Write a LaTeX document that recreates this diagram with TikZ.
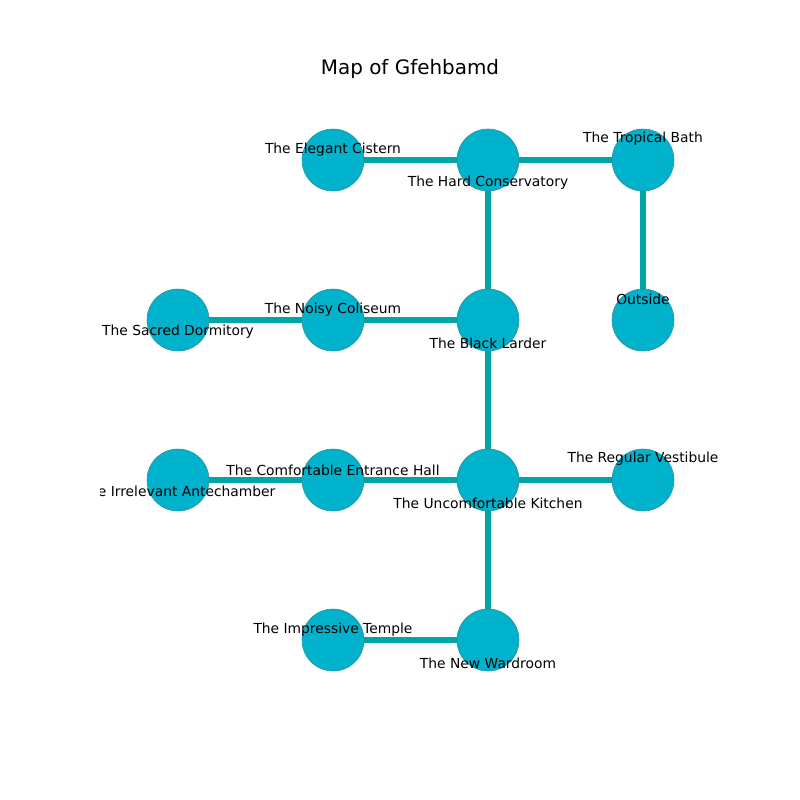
\documentclass[tikz,border=0pt]{standalone}
\usepackage{fontspec}
\setmainfont{DejaVu Sans}
\usepackage{xcolor}
\definecolor{roomFill}{HTML}{00B2CB}
\definecolor{roomEdge}{HTML}{2E8C9C}
\definecolor{path}{HTML}{00A6A6}
\usepackage{tikz}
\usetikzlibrary{backgrounds}

\begin{document}
\begin{tikzpicture}[
  x=0.254mm, y=-0.254mm,
  font=\fontsize{10}{12}\selectfont,
  every node/.style={align=center},
  room/.style={circle, fill=roomFill, draw=roomEdge, line width=0.4pt,
    minimum size=62*0.254mm, inner sep=0pt},
  roomlabel/.style={inner sep=0pt, text=black, yshift=-2*0.254mm},
  passage/.style={draw=path, line width=4pt},
]
  \useasboundingbox (0,0) rectangle (800,800);

  \node[font=\fontsize{14.4}{16}\selectfont] (title) at (410,69) {Map of Gfehbamd};

  % rooms
  \node[room] (cistern) at (333,160) {};
  \node[room] (conservatory) at (488,160) {};
  \node[room] (tropical) at (643,160) {};
  \node[room] (dormitory) at (178,320) {};
  \node[room] (coliseum) at (333,320) {};
  \node[room] (larder) at (488,320) {};
  \node[room] (outside) at (643,320) {};
  \node[room] (antechamber) at (178,480) {};
  \node[room] (entrance) at (333,480) {};
  \node[room] (kitchen) at (488,480) {};
  \node[room] (vestibule) at (643,480) {};
  \node[room] (temple) at (333,640) {};
  \node[room] (wardroom) at (488,640) {};

  % passages
  \begin{scope}[on background layer]
    \path[passage] (cistern.center) -- (conservatory.center);
    \path[passage] (conservatory.center) -- (tropical.center);
    \path[passage] (conservatory.center) -- (larder.center);
    \path[passage] (tropical.center) -- (outside.center);
    \path[passage] (dormitory.center) -- (coliseum.center);
    \path[passage] (coliseum.center) -- (larder.center);
    \path[passage] (larder.center) -- (kitchen.center);
    \path[passage] (antechamber.center) -- (entrance.center);
    \path[passage] (entrance.center) -- (kitchen.center);
    \path[passage] (kitchen.center) -- (vestibule.center);
    \path[passage] (kitchen.center) -- (wardroom.center);
    \path[passage] (temple.center) -- (wardroom.center);
  \end{scope}

  % labels
  \node[roomlabel] (cisternlbl) at (333,148) {The Elegant Cistern};
  \node[roomlabel] (conservatorylbl) at (488,181) {The Hard Conservatory};
  \node[roomlabel] (tropicallbl) at (643,137) {The Tropical Bath};
  \node[roomlabel] (dormitorylbl) at (178,330) {The Sacred Dormitory};
  \node[roomlabel] (coliseumlbl) at (333,308) {The Noisy Coliseum};
  \node[roomlabel] (larderlbl) at (488,341) {The Black Larder};
  \node[roomlabel] (outsidelbl) at (643,297) {Outside};
  \begin{scope}
    \clip (100,440) rectangle (300,520);
    \node[roomlabel] (antechamberlbl) at (178,489) {The Irrelevant Antechamber};
  \end{scope}
  \node[roomlabel] (entrancelbl) at (333,468) {The Comfortable Entrance Hall};
  \node[roomlabel] (kitchenlbl) at (488,501) {The Uncomfortable Kitchen};
  \node[roomlabel] (vestibulelbl) at (643,457) {The Regular Vestibule};
  \node[roomlabel] (templelbl) at (333,628) {The Impressive Temple};
  \node[roomlabel] (wardroomlbl) at (488,661) {The New Wardroom};
\end{tikzpicture}
\end{document}
